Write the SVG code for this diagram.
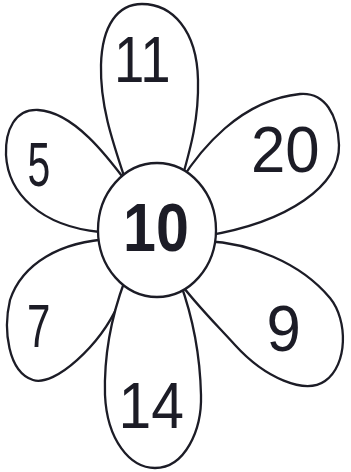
<svg xmlns="http://www.w3.org/2000/svg" width="351" height="472" viewBox="0 0 351 472">
<style>
.petal{fill:#fff;stroke:#1c1c26;stroke-width:2.3;stroke-linejoin:round}
.num{font-family:"Liberation Sans",Arial,sans-serif;fill:#1c1c26}
.big{font-weight:bold}
</style>
<rect width="351" height="472" fill="#fff"/>
<g id="connectors"></g>
<g id="petal-11"><path class="petal" d="M126,182 C112,140 100,105 101,65 C102,25 118,4 142,4 C172,4 197,30 198,80 C199,120 190,150 181,182 Z"/><text class="num" font-size="65" transform="translate(114,82) scale(0.84,1)">11</text></g>
<g id="petal-5"><path class="petal" d="M128,184 C110,160 75,112 38,110 C15,109 5,130 6,155 C8,193 40,226 100,232 L115,234 Z"/><text class="num" font-size="63" transform="translate(27.5,186) scale(0.65,1)">5</text></g>
<g id="petal-20"><path class="petal" d="M180,182 C200,150 240,100 300,94 C325,92 338,115 339,145 C340,185 290,222 205,236 L195,238 Z"/><text class="num" font-size="65" transform="translate(251,171.5) scale(0.95,1)">20</text></g>
<g id="petal-7"><path class="petal" d="M112,239 C60,241 22,264 10,300 C3,330 8,372 33,380 C55,387 100,345 118,305 L128,280 Z"/><text class="num" font-size="61" transform="translate(27,347) scale(0.69,1)">7</text></g>
<g id="petal-9"><path class="petal" d="M205,241 C250,243 300,262 330,298 C348,320 348,365 325,381 C305,395 265,378 235,345 C212,320 192,300 178,280 Z"/><text class="num" font-size="65" transform="translate(266.4,351) scale(0.95,1)">9</text></g>
<g id="petal-14"><path class="petal" d="M125,280 C110,320 104,360 105,395 C107,440 130,468 155,468 C185,468 202,430 201,395 C200,350 192,315 180,282 Z"/><text class="num" font-size="64" transform="translate(118.6,428) scale(0.92,1)">14</text></g>
<g id="center-10"><ellipse class="petal" cx="157" cy="230" rx="59" ry="67"/><text class="num big" font-size="68" transform="translate(123,251) scale(0.87,1)">10</text></g>
</svg>
